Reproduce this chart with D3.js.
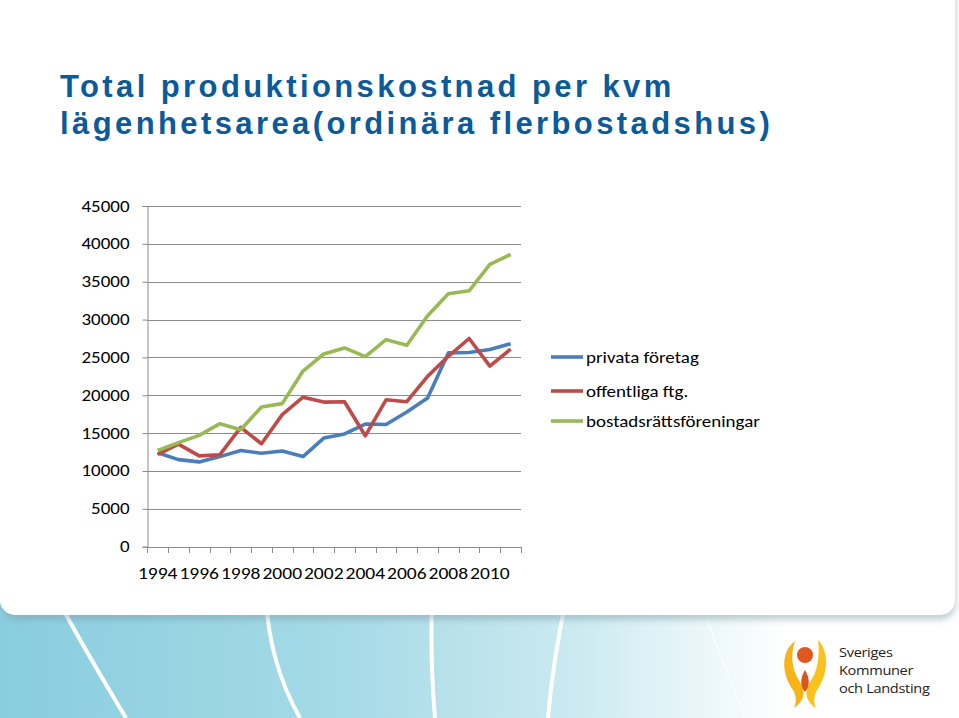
<!DOCTYPE html>
<html><head><meta charset="utf-8">
<script src="https://cdn.jsdelivr.net/npm/d3@7"></script>
<style>
html,body{margin:0;padding:0;background:#fff;}
svg{display:block;}
</style></head>
<body>
<svg id="c" width="959" height="718"></svg>
<script>
const years = [1994,1995,1996,1997,1998,1999,2000,2001,2002,2003,2004,2005,2006,2007,2008,2009,2010,2011];
const tickLabels = [1994,1996,1998,2000,2002,2004,2006,2008,2010];
const yTicks = [0,5000,10000,15000,20000,25000,30000,35000,40000,45000];
const seriesNames = ["privata företag","offentliga ftg.","bostadsrättsföreningar"];
const privata = [12400,11500,11200,11900,12700,12350,12650,11900,14350,14900,16200,16150,17800,19650,25600,25650,26050,26800];
const offentliga = [12200,13550,12000,12150,15750,13600,17450,19750,19100,19150,14650,19400,19150,22500,25150,27500,23850,26100];
const bostadsratt = [12700,13750,14700,16250,15450,18450,18900,23200,25450,26250,25100,27350,26600,30500,33400,33800,37300,38600];
const colors = ["#4a7ebb","#be4b48","#98b954"];

const svg = d3.select("#c");
const defs = svg.append("defs");
const grad = defs.append("linearGradient").attr("id","band").attr("x1","0").attr("x2","1").attr("y1","0").attr("y2","0");
grad.append("stop").attr("offset","0").attr("stop-color","#89cddf");
grad.append("stop").attr("offset","0.35").attr("stop-color","#a5dae6");
grad.append("stop").attr("offset","0.6").attr("stop-color","#cbeaf1");
grad.append("stop").attr("offset","0.82").attr("stop-color","#ffffff");
grad.append("stop").attr("offset","1").attr("stop-color","#ffffff");
const blur = defs.append("filter").attr("id","sh").attr("x","-5%").attr("y","-5%").attr("width","110%").attr("height","120%");
blur.append("feGaussianBlur").attr("stdDeviation","3");

// background band
svg.append("rect").attr("x",0).attr("y",560).attr("width",959).attr("height",158).attr("fill","url(#band)");
const stripes = [
  "M58,600 Q85,650 126,718",
  "M266,600 Q270,665 300,718",
  "M432,600 Q430,660 435,718",
  "M566,600 Q553,660 548,718",
  "M700,600 Q722,660 745,718"
];
svg.selectAll("path.stripe").data(stripes).join("path").attr("class","stripe")
  .attr("d",d=>d).attr("fill","none").attr("stroke","#fff").attr("stroke-width",(d,i)=>i===4?2:4).attr("opacity",(d,i)=>i===4?0.5:1);
// panel shadow + panel
svg.append("rect").attr("x",2).attr("y",-30).attr("width",954).attr("height",650).attr("rx",16).attr("fill","#7a9aa3").attr("opacity",0.45).attr("filter","url(#sh)");
svg.append("rect").attr("x",0).attr("y",-30).attr("width",955).attr("height",645).attr("rx",15).attr("fill","#fff");

// title
const title = svg.append("text").attr("fill","#0b5a9a").attr("font-family","Liberation Sans, Arial, sans-serif")
  .attr("font-weight","bold").attr("font-size",31).attr("letter-spacing",3.4);
title.append("tspan").attr("x",60).attr("y",97).text("Total produktionskostnad per kvm");
title.append("tspan").attr("x",60).attr("y",134).text("lägenhetsarea(ordinära flerbostadshus)");

// scales
const x = d3.scaleBand().domain(years).range([147.3,521]).padding(0);
const y = d3.scaleLinear().domain([0,45000]).range([546.7,206]);
const cx = d => x(d)+x.bandwidth()/2;
const font = "Carlito, Lato, 'Open Sans', sans-serif";
const SX = 1.15;

// grid
svg.append("g").selectAll("line").data(yTicks.filter(t=>t>0)).join("line")
  .attr("x1",147.3).attr("x2",521).attr("y1",d=>Math.round(y(d))+0.5).attr("y2",d=>Math.round(y(d))+0.5)
  .attr("stroke","#8c8c8c").attr("stroke-width",1);

// y axis
const ya = svg.append("g").attr("transform","translate(147.5,0)")
  .call(d3.axisLeft(y).tickValues(yTicks).tickSize(5).tickFormat(""));
ya.select(".domain").attr("stroke","#8c8c8c");
ya.selectAll(".tick line").attr("stroke","#8c8c8c");
svg.append("g").selectAll("text").data(yTicks).join("text")
  .attr("transform",d=>`translate(129.5,${y(d)+5.5}) scale(${SX},1)`)
  .attr("text-anchor","end").attr("font-family",font).attr("font-size",16.5).attr("fill","#000")
  .text(d=>d3.format("d")(d));

// x axis
const xa = svg.append("g").attr("transform","translate(0,547)")
  .call(d3.axisBottom(x).tickValues([]).tickSizeOuter(0));
xa.select(".domain").attr("stroke","#8c8c8c").attr("d","M147.3,0.5H521");
const edges = years.map(d=>x(d)).concat([x(years[years.length-1])+x.bandwidth()]);
xa.selectAll("line.tk").data(edges).join("line").attr("class","tk")
  .attr("x1",d=>Math.round(d)+0.5).attr("x2",d=>Math.round(d)+0.5).attr("y1",0).attr("y2",6).attr("stroke","#8c8c8c");
xa.selectAll("text.yl").data(tickLabels).join("text").attr("class","yl")
  .attr("transform",d=>`translate(${cx(d)},31.5) scale(${SX},1)`).attr("text-anchor","middle")
  .attr("font-family",font).attr("font-size",17).attr("fill","#000").text(d=>d);

// lines
const data = [privata,offentliga,bostadsratt];
const line = d3.line().x((d,i)=>cx(years[i])).y(d=>y(d));
svg.append("g").selectAll("path").data(data).join("path")
  .attr("d",line).attr("fill","none").attr("stroke",(d,i)=>colors[i]).attr("stroke-width",3.6)
  .attr("stroke-linejoin","round");

// legend
const lg = svg.append("g").selectAll("g").data(seriesNames).join("g")
  .attr("transform",(d,i)=>`translate(551,${[357,391,421][i]})`);
lg.append("line").attr("x1",0).attr("x2",32).attr("y1",0).attr("y2",0).attr("stroke",(d,i)=>colors[i]).attr("stroke-width",3.6);
lg.append("text").attr("transform",`translate(35,5.5) scale(${SX},1)`).attr("font-family",font).attr("font-size",16.5).attr("fill","#000").text(d=>d);

// logo
const logo = svg.append("g");
logo.append("path").attr("d","M795,641 C780,652 782,675 793,690 C797,697 796,704 794,708 C806,700 805,690 800,682 C792,670 790,656 795,641 Z").attr("fill","#f7b418");
logo.append("path").attr("d","M818,640 C830,652 828,675 817,690 C813,697 814,704 816,708 C804,700 805,690 810,682 C818,670 820,656 818,640 Z").attr("fill","#f9c21c");
logo.append("path").attr("d","M805,670 C800,678 800,686 805,692 C810,686 810,678 805,670 Z").attr("fill","#d9541e");
logo.append("circle").attr("cx",805).attr("cy",655).attr("r",8).attr("fill","#e1571f");
logo.selectAll("text").data([["Sveriges",657],["Kommuner",675],["och Landsting",693]]).join("text")
  .attr("transform",d=>`translate(839,${d[1]}) scale(1.08,1)`).attr("font-family","'Open Sans', sans-serif").attr("font-size",13.5)
  .attr("fill","#222").attr("letter-spacing",-0.3).text(d=>d[0]);
</script>
</body></html>
